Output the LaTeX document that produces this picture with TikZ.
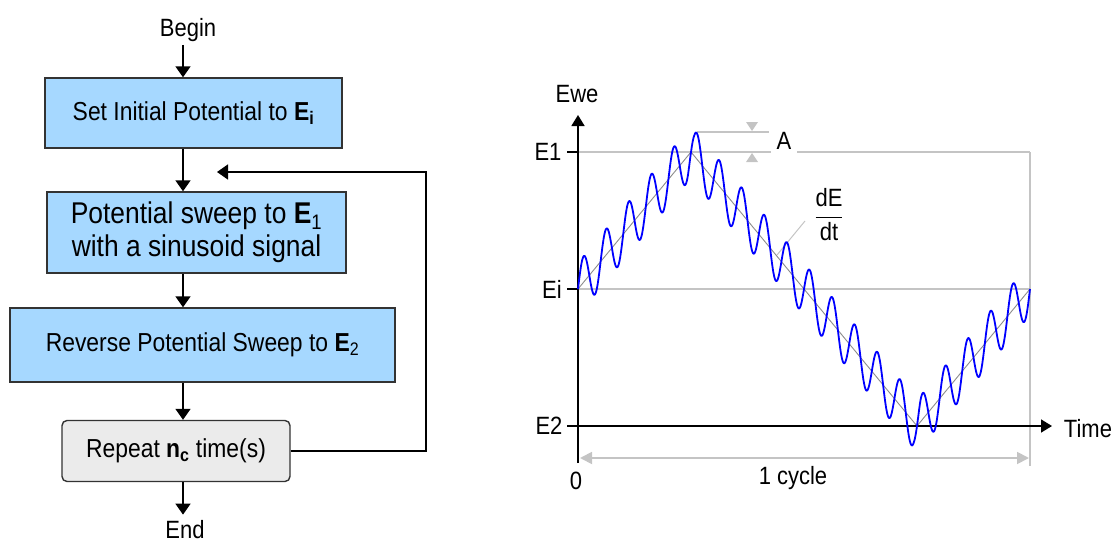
\documentclass[tikz,border=0pt]{standalone}
\usepackage{fontspec}
\setmainfont[FakeStretch=0.88]{Liberation Sans}
\usepackage{xcolor}
\usepackage{tikz}
\usetikzlibrary{arrows.meta,positioning}

\definecolor{stepblue}{RGB}{166,216,255}
\definecolor{repgray}{RGB}{235,235,235}
\definecolor{guidegray}{RGB}{196,196,196}
\definecolor{rampgray}{RGB}{140,140,140}

\begin{document}
\begin{tikzpicture}[
  x=1pt, y=-1pt,
  box/.style={draw=black!80, line width=1.4pt, fill=stepblue, align=center,
              inner sep=0pt, font=\fontsize{26}{30}\selectfont},
  repeatbox/.style={box, fill=repgray, rounded corners=5pt},
  term/.style={inner sep=3pt, font=\fontsize{25}{30}\selectfont},
  lbl/.style={inner sep=1pt, font=\fontsize{25}{30}\selectfont},
  arrow/.style={-{Triangle[length=11pt,width=15pt]}, line width=1.6pt},
  axis/.style={-{Triangle[length=11pt,width=13pt]}, line width=1.6pt},
  guide/.style={guidegray, line width=1.8pt},
  cyclearrow/.style={{Triangle[length=12pt,width=12pt]}-{Triangle[length=12pt,width=12pt]},
                     guidegray, line width=1.8pt},
  ramp/.style={rampgray, line width=0.9pt},
  wave/.style={blue, line width=1.8pt, line join=round}
]
\useasboundingbox (0,0) rectangle (1116,543);

% flow chart
\coordinate (spine) at (183,0);
\node[term] (begin) at (188,30) {Begin};
\node[box, minimum width=297pt, minimum height=70pt] (init) at (193.5,113)
  {Set Initial Potential to \textbf{E\textsubscript{i}}};
\node[box, minimum width=299pt, minimum height=81pt,
      font=\fontsize{30}{33}\selectfont] (sweep) at (196.5,232.5)
  {Potential sweep to \textbf{E}\textsubscript{1}\\with a sinusoid signal};
\node[box, minimum width=385pt, minimum height=74pt] (reverse) at (202.5,345)
  {Reverse Potential Sweep to \textbf{E}\textsubscript{2}};
\node[repeatbox, minimum width=228pt, minimum height=61pt] (repeat) at (176,451)
  {Repeat \textbf{n\textsubscript{c}} time(s)};
\node[term, inner sep=6pt] (end) at (185,530) {End};
\coordinate (loopend) at (217,172);

\draw[arrow] (begin.south -| spine)--(init.north -| spine);
\draw[arrow] (init.south -| spine)--(sweep.north -| spine);
\draw[arrow] (sweep.south -| spine)--(reverse.north -| spine);
\draw[arrow] (reverse.south -| spine)--(repeat.north -| spine);
\draw[arrow] (repeat.south -| spine)--(end.north -| spine);
\draw[arrow] (repeat.east)--++(135,0)|-(loopend);

% potential vs time
\coordinate (start) at (578,289);
\coordinate (peak) at (691,152);
\coordinate (trough) at (917,426);
\coordinate (cycend) at (1030,289);

\draw[guide] (start)--(cycend);
\draw[guide] (578,152)--(771,152);
\draw[guide] (797,152)--(1030,152);
\draw[guide] (1030,152)--(1030,466);
\draw[guide] (697,132)--(769,132);
\fill[guidegray] (752,131)--(746,122)--(758,122)--cycle;
\fill[guidegray] (752,153)--(746,162)--(758,162)--cycle;
\draw[cyclearrow] (580,458)--(1029,458);
\draw[guidegray, line width=1pt] (777,255)--(805,221);

\draw[axis] (578,463)--(578,115);
\draw[axis] (567,426)--(1052,426);
\draw[line width=1.6pt] (567,152)--(578,152);
\draw[line width=1.6pt] (567,289)--(578,289);

\draw[ramp] (start)--(peak)--(trough)--(cycend);
\draw[wave] plot[domain=0:452, samples=720]
  ({578+\x}, {289-137*asin(sin(0.79646*\x))/90-26*sin(15.9292*\x)});

\node[lbl] (ewe) at (577,94) {Ewe};
\node[lbl] (e1) at (548,152) {E1};
\node[lbl] (ei) at (552,289) {Ei};
\node[lbl] (e2) at (549,426) {E2};
\node[lbl] (time) at (1088,429) {Time};
\node[lbl] (zero) at (576,481) {0};
\node[lbl] (cycle) at (793,478) {1 cycle};
\node[lbl] (amp) at (784,141) {A};
\node[lbl] (slope) at (829,215) {$\displaystyle\frac{\mbox{dE}}{\mbox{dt}}$};
\end{tikzpicture}
\end{document}
